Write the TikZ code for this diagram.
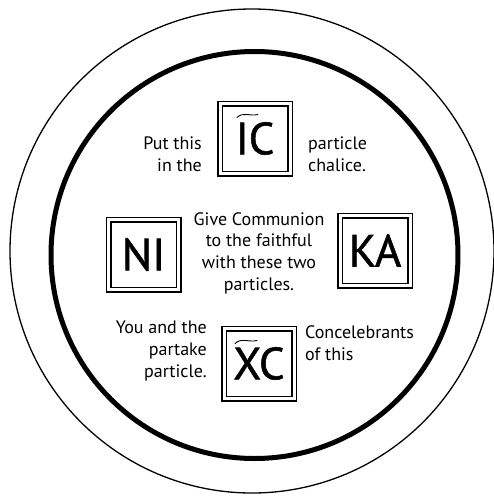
\documentclass[tikz,border=0pt]{standalone}
\usepackage{fontspec}
\setmainfont{PT Sans}

\tikzset{
  tablet/.style={draw, line width=1.5pt, double, double distance=3pt,
    minimum width=70pt, minimum height=70pt, inner sep=0pt,
    font=\fontsize{45}{45}\selectfont\addfontfeature{FakeBold=1.2}},
  caption/.style={font=\fontsize{18}{21.6}\selectfont, inner sep=0pt},
  titlo/.style={line width=0.9pt, line cap=round},
}

\begin{document}
\begin{tikzpicture}[x=1pt,y=-1pt]
    \useasboundingbox (0,0) rectangle (494,499);

    \draw[line width=1.3pt] (252,251) circle (242pt);
    \draw[line width=5pt] (254.5,255) circle (203.5pt);

    \node[tablet] (ic) at (255,138.5) {IC};
    \node[tablet] (ni) at (143.5,254.5) {NI};
    \node[tablet] (ka) at (375,250.5) {KA};
    \node[tablet] (xc) at (259,363.5) {XC};

    \draw[titlo] ([shift={(-18,-21)}]ic.center) .. controls +(6,-6) and +(-8,2) .. ([shift={(3,-24)}]ic.center);
    \draw[titlo] ([shift={(-24,-20)}]xc.center) .. controls +(6,-6) and +(-8,2) .. ([shift={(-2,-23)}]xc.center);

    \node[caption, anchor=east, align=right] (put) at (202,154) {Put this\\in the};
    \node[caption, anchor=west, align=left] (chalice) at (308,154) {particle\\chalice.};
    \node[caption, align=center] (give) at (259,253) {Give Communion\\to the faithful\\with these two\\particles.};
    \node[caption, anchor=east, align=right] (you) at (207,351) {You and the\\partake\\particle.};
    \node[caption, anchor=west, align=left] (conc) at (305,343) {Concelebrants\\of this};
\end{tikzpicture}
\end{document}
